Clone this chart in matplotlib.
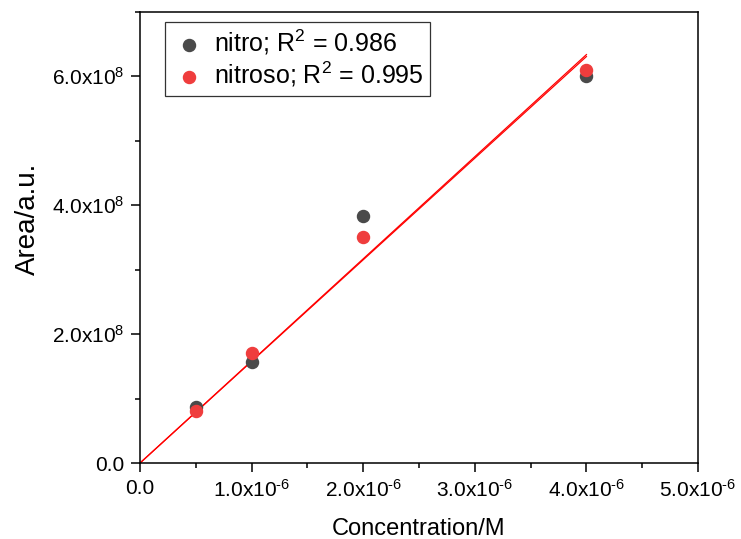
import matplotlib

matplotlib.use("Agg")
import matplotlib.pyplot as plt
import matplotlib.ticker as mticker
import numpy as np

plt.rcParams["font.family"] = ["Liberation Sans", "DejaVu Sans"]
plt.rcParams["mathtext.fontset"] = "custom"
plt.rcParams["mathtext.rm"] = "Liberation Sans"
plt.rcParams["mathtext.it"] = "Liberation Sans:italic"

# concentrations (M)
conc = [0.5e-6, 1.0e-6, 2.0e-6, 4.0e-6]
nitro_area = [0.87e8, 1.57e8, 3.83e8, 6.00e8]
nitroso_area = [0.81e8, 1.70e8, 3.50e8, 6.10e8]
nitro_r2 = 0.986
nitroso_r2 = 0.995

NITRO_COLOR = "#4a4a4a"
NITROSO_COLOR = "#ef3d3d"
FIT_COLOR = "#ff0000"


def sci_fmt(val, pos):
    if val == 0:
        return "0.0"
    exp = int(np.floor(np.log10(abs(val)) + 1e-9))
    mant = val / 10**exp
    e = f"\\text{{-}}{abs(exp)}" if exp < 0 else f"{exp}"
    return f"{mant:.1f}x10$^{{{e}}}$"


def origin_fit(x, y):
    x = np.asarray(x)
    y = np.asarray(y)
    return np.sum(x * y) / np.sum(x * x)


fig = plt.figure(figsize=(7.41, 5.39), dpi=100)
ax = fig.add_axes([0.189, 0.141, 0.753, 0.837])

xfit = np.array([0.0, conc[-1]])
for yy in (nitro_area, nitroso_area):
    k = origin_fit(conc, yy)
    ax.plot(xfit, k * xfit, color=FIT_COLOR, linewidth=0.9, zorder=2)

ax.scatter(conc, nitro_area, s=75, color=NITRO_COLOR, zorder=3,
           label=f"nitro; R$^2$ = {nitro_r2}")
ax.scatter(conc, nitroso_area, s=75, color=NITROSO_COLOR, zorder=4,
           label=f"nitroso; R$^2$ = {nitroso_r2}")

ax.set_xlim(0, 5e-6)
ax.set_ylim(0, 7e8)
ax.xaxis.set_major_locator(mticker.MultipleLocator(1e-6))
ax.xaxis.set_minor_locator(mticker.MultipleLocator(0.5e-6))
ax.yaxis.set_major_locator(mticker.MultipleLocator(2e8))
ax.yaxis.set_minor_locator(mticker.MultipleLocator(1e8))
ax.xaxis.set_major_formatter(mticker.FuncFormatter(sci_fmt))
ax.yaxis.set_major_formatter(mticker.FuncFormatter(sci_fmt))

ax.tick_params(which="both", direction="out", top=False, right=False, labelsize=15, width=1.1)
ax.tick_params(which="major", length=6.5, pad=5)
ax.tick_params(which="minor", length=3.5)
for sp in ax.spines.values():
    sp.set_linewidth(1.1)

ax.set_xlabel("Concentration/M", fontsize=17, labelpad=12)
ax.set_ylabel("Area/a.u.", fontsize=20)
ax.yaxis.set_label_coords(-0.178, 0.541)

leg = ax.legend(loc="upper left", bbox_to_anchor=(0.045, 0.978), fontsize=18,
                frameon=True, fancybox=False, edgecolor="black",
                handletextpad=0.3, borderpad=0.25, labelspacing=0.1,
                handlelength=1.4, borderaxespad=0.0)
leg.get_frame().set_linewidth(0.9)

fig.savefig("out.png", dpi=100)
